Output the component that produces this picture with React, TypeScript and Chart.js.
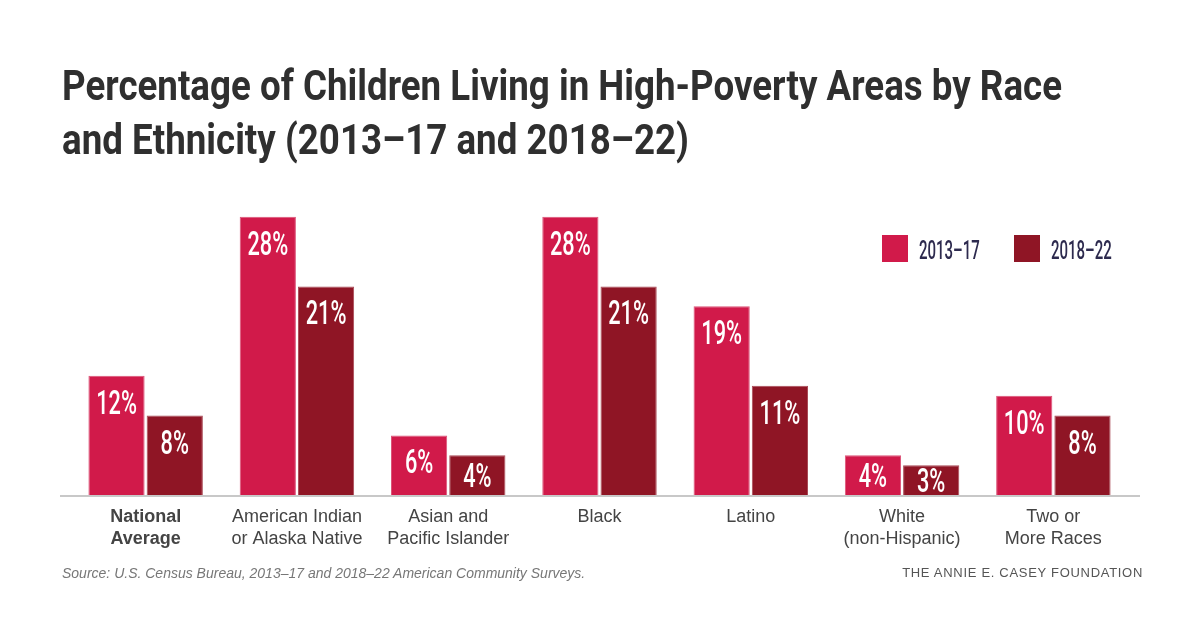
import React, { useEffect, useRef, useMemo } from "react";
import { Chart, registerables } from "chart.js";

Chart.register(...registerables);

const titleLines = [
  "Percentage of Children Living in High-Poverty Areas by Race",
  "and Ethnicity (2013–17 and 2018–22)",
];
const categories = [
  ["National", "Average"],
  ["American Indian", "or Alaska Native"],
  ["Asian and", "Pacific Islander"],
  ["Black"],
  ["Latino"],
  ["White", "(non-Hispanic)"],
  ["Two or", "More Races"],
];
const seriesNames = ["2013–17", "2018–22"];
const values2013 = [12, 28, 6, 28, 19, 4, 10];
const values2018 = [8, 21, 4, 21, 11, 3, 8];
const sourceText = "Source: U.S. Census Bureau, 2013–17 and 2018–22 American Community Surveys.";
const brandText = "THE ANNIE E. CASEY FOUNDATION";

const COLOR_A = "#d11a4a";
const COLOR_B = "#8f1525";
const CONDENSED = "Roboto";

const baselinePlugin = {
  id: "baseline",
  afterDatasetsDraw(chart: any) {
    const { ctx, chartArea, scales } = chart;
    const y = scales.y.getPixelForValue(0);
    ctx.save();
    ctx.fillStyle = "#c8c8c8";
    ctx.fillRect(chartArea.left - 10, y, chartArea.right - chartArea.left + 21, 2);
    ctx.restore();
  },
};

const valueLabelPlugin = {
  id: "valueLabels",
  afterDatasetsDraw(chart: any) {
    const { ctx } = chart;
    ctx.save();
    ctx.fillStyle = "#ffffff";
    ctx.font = `500 34px ${CONDENSED}`;
    ctx.textAlign = "center";
    ctx.textBaseline = "alphabetic";
    chart.data.datasets.forEach((ds: any, di: number) => {
      const meta = chart.getDatasetMeta(di);
      meta.data.forEach((el: any, i: number) => {
        const h = el.base - el.y;
        const cy = el.y + Math.min(26, h / 2);
        ctx.save();
        ctx.translate(el.x, cy + 12);
        ctx.scale(0.64, 1);
        ctx.fillText(`${ds.data[i]}%`, 0, 0);
        ctx.restore();
      });
    });
    ctx.restore();
  },
};

const legendPlugin = {
  id: "customLegend",
  afterDraw(chart: any) {
    const { ctx } = chart;
    ctx.save();
    ctx.font = `500 25px ${CONDENSED}`;
    ctx.textBaseline = "alphabetic";
    ctx.textAlign = "left";
    chart.data.datasets.forEach((ds: any, i: number) => {
      const x = 882 + i * 132;
      ctx.fillStyle = ds.backgroundColor;
      ctx.fillRect(x, 235, 26, 27);
      ctx.fillStyle = "#2d2a4e";
      ctx.save();
      ctx.translate(x + 37, 259);
      ctx.scale(0.6, 1);
      ctx.fillText(ds.label, 0, 0);
      ctx.restore();
    });
    ctx.restore();
  },
};

function useTitleScale() {
  return useMemo(() => {
    const c = document.createElement("canvas").getContext("2d")!;
    c.font = "700 42px Roboto";
    const w = c.measureText(titleLines[0]).width;
    return w > 0 ? 1000 / w : 0.75;
  }, []);
}

export default function App() {
  const canvasRef = useRef<HTMLCanvasElement>(null);
  const titleScale = useTitleScale();

  useEffect(() => {
    const chart = new Chart(canvasRef.current!, {
      type: "bar",
      data: {
        labels: categories,
        datasets: [
          {
            label: seriesNames[0],
            data: values2013,
            backgroundColor: COLOR_A,
            borderColor: "#dc5478",
            borderWidth: 1,
            borderSkipped: "start",
            categoryPercentage: 0.77,
            barPercentage: 0.965,
          },
          {
            label: seriesNames[1],
            data: values2018,
            backgroundColor: COLOR_B,
            borderColor: "#a94a56",
            borderWidth: 1,
            borderSkipped: "start",
            categoryPercentage: 0.77,
            barPercentage: 0.965,
          },
        ],
      },
      options: {
        responsive: false,
        animation: false,
        layout: { padding: { left: 70, right: 71, top: 197, bottom: 67 } },
        plugins: {
          legend: { display: false },
          tooltip: { enabled: false },
          title: { display: false },
        },
        scales: {
          x: {
            grid: { display: false, drawTicks: false },
            border: { display: false },
            ticks: {
              padding: 11,
              color: "#444444",
              autoSkip: false,
              maxRotation: 0,
              font: (ctx: any) => ({
                family: "'Liberation Sans', Arial, sans-serif",
                size: 18,
                lineHeight: 22 / 18,
                weight: ctx.index === 0 ? "bold" : "normal",
              }),
            },
          },
          y: {
            display: false,
            min: 0,
            max: 30,
          },
        },
      },
      plugins: [baselinePlugin, valueLabelPlugin, legendPlugin],
    });
    return () => chart.destroy();
  }, []);

  return (
    <div
      style={{
        position: "fixed",
        left: 0,
        top: 0,
        width: 1200,
        height: 628,
        background: "#ffffff",
        overflow: "hidden",
      }}
    >
      <canvas ref={canvasRef} width={1200} height={628} style={{ position: "absolute", left: 0, top: 0 }} />
      <div
        style={{
          position: "absolute",
          left: 62,
          top: 59,
          fontFamily: "Roboto, sans-serif",
          fontWeight: 700,
          fontSize: 42,
          lineHeight: "54px",
          color: "#2f2f2f",
          whiteSpace: "nowrap",
          transform: `scaleX(${titleScale})`,
          transformOrigin: "left top",
        }}
      >
        {titleLines.map((t) => (
          <div key={t}>{t}</div>
        ))}
      </div>
      <div
        style={{
          position: "absolute",
          left: 62,
          top: 565,
          fontFamily: "'Liberation Sans', Arial, sans-serif",
          fontStyle: "italic",
          fontSize: 14,
          lineHeight: "16px",
          color: "#777777",
          whiteSpace: "nowrap",
        }}
      >
        {sourceText}
      </div>
      <div
        style={{
          position: "absolute",
          right: 57,
          top: 565,
          fontFamily: "'Liberation Sans', Arial, sans-serif",
          fontSize: 13,
          lineHeight: "16px",
          letterSpacing: "0.7px",
          color: "#555555",
          whiteSpace: "nowrap",
        }}
      >
        {brandText}
      </div>
    </div>
  );
}
